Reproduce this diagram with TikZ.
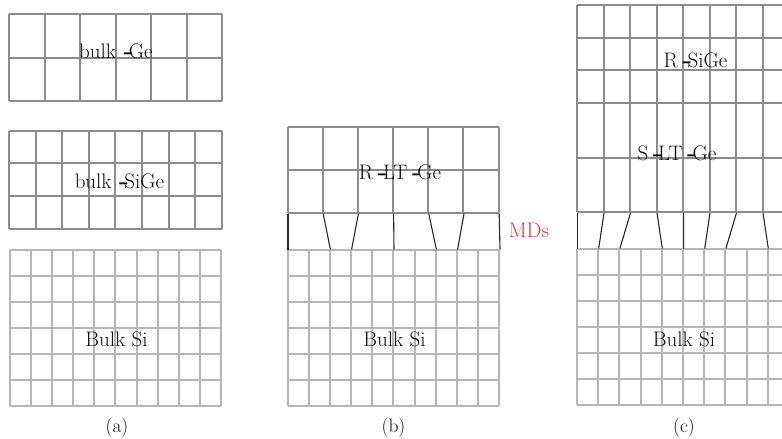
\documentclass[tikz,border=0pt]{standalone}
\usetikzlibrary{positioning}
\definecolor{gridink}{HTML}{8C8C8C}
\definecolor{siink}{HTML}{B6B6BA}
\definecolor{mdred}{HTML}{F0303A}
\tikzset{
  gelayer/.style={draw=gridink,line width=2pt},
  silayer/.style={draw=siink,line width=2pt},
  mdline/.style={draw=black!85,line width=1.1pt},
  layertext/.style={font=\fontsize{21}{23}\selectfont,text=black!95,inner sep=0pt},
  caption/.style={font=\fontsize{19.5}{21}\selectfont,text=black!95,inner sep=0pt}
}
% gap and heavy dash that runs into the next letter
\newcommand{\layerdash}{\kern4.5pt\scalebox{1.25}[1]{\textbf{-}}\kern-4.5pt}
% x0, y0, cell width, cell height, columns, rows, style
\newcommand{\gridlayer}[7]{
  \foreach \col in {0,...,#5}
    \draw[#7] ({round(#1+\col*#3)-.5},{round(#2)-.5}) -- ({round(#1+\col*#3)-.5},{round(#2+#6*#4)-.5});
  \foreach \row in {0,...,#6}
    \draw[#7] ({round(#1)-.5},{round(#2+\row*#4)-.5}) -- ({round(#1+#5*#3)-.5},{round(#2+\row*#4)-.5});
}
\begin{document}
\begin{tikzpicture}[x=1pt,y=-1pt]
    \useasboundingbox (0,0) rectangle (782,439);
    % (a)
    \gridlayer{9}{14}{35.5}{43.7}{6}{2}{gelayer}
    \gridlayer{9}{130.5}{26.6}{32.7}{8}{3}{gelayer}
    \gridlayer{9.5}{249.5}{21.2}{26}{10}{6}{silayer}
    \node[layertext] (geA) at (116,51) {bulk\kern3pt\layerdash Ge};
    \node[layertext] (sigeA) at (119.5,181) {bulk\kern3pt\layerdash SiGe};
    \node[layertext] (siA) at (116.5,339) {Bulk Si};
    \node[caption] (capA) at (117,428) {(a)};
    % (b)
    \gridlayer{287.5}{126.5}{35.2}{43.3}{6}{2}{gelayer}
    \gridlayer{287.5}{249.5}{21.2}{26}{10}{6}{silayer}
    \foreach \top/\bot in {0/0,1/2,2/3,3/5,4/7,5/8,6/10}
      \draw[mdline] ({288+\top*35.2},213.7) -- ({288+\bot*21.2},249.5);
    \node[layertext] (geB) at (400,172) {R\layerdash LT\layerdash Ge};
    \node[layertext] (siB) at (394.5,339) {Bulk Si};
    \node[caption] (capB) at (393.5,428) {(b)};
    \node[layertext,text=mdred] (mds) at (529,230.5) {MDs};
    % (c)
    \begin{scope}
      \clip (570,0) rectangle (782,439);
      \gridlayer{577}{5}{26.5}{32.7}{8}{3}{gelayer}
      \gridlayer{577}{103}{26.5}{54.7}{8}{2}{gelayer}
      \gridlayer{577}{248.5}{21.2}{26.1}{10}{6}{silayer}
      \foreach \top/\bot in {0/0,1/1,2/2,3/4,4/5,5/6,6/7,7/9}
        \draw[mdline] ({577.5+\top*26.5},212.9) -- ({577.5+\bot*21.2},248.5);
    \end{scope}
    \node[layertext] (sigeC) at (695.5,60) {R\layerdash SiGe};
    \node[layertext] (geC) at (677,153) {S\layerdash LT\layerdash Ge};
    \node[layertext] (siC) at (684,339) {Bulk Si};
    \node[caption] (capC) at (684,428) {(c)};
  \end{tikzpicture}
\end{document}
